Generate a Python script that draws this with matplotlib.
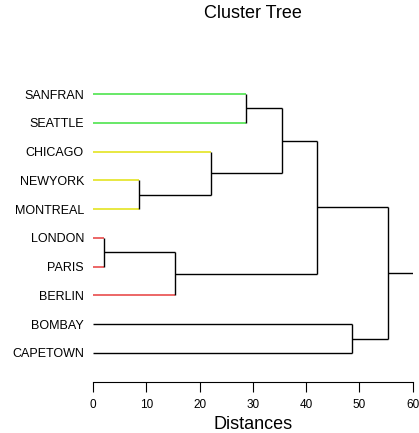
import matplotlib
matplotlib.use('Agg')
import matplotlib.pyplot as plt

plt.rcParams['font.family'] = ['Liberation Sans', 'DejaVu Sans']

# Daun pohon (urutan dari atas ke bawah)
leaves = ["SANFRAN", "SEATTLE", "CHICAGO", "NEWYORK", "MONTREAL",
          "LONDON", "PARIS", "BERLIN", "BOMBAY", "CAPETOWN"]
leaf_colors = ["#5ce65c", "#5ce65c", "#e6e633", "#e6e633", "#e6e633",
               "#ea5a5a", "#ea5a5a", "#ea5a5a", "black", "black"]

# Penggabungan: (anak kiri, anak kanan, jarak); node baru diberi nomor 10, 11, ...
merge_left = [0, 3, 2, 10, 5, 14, 13, 8, 16]
merge_right = [1, 4, 11, 12, 6, 7, 15, 9, 17]
merge_dist = [28.7, 8.7, 22.1, 35.4, 2.1, 15.4, 42.0, 48.7, 55.4]

x_max = 60
x_ticks = [0, 10, 20, 30, 40, 50, 60]

fig = plt.figure(figsize=(4.19, 4.33), dpi=100)
ax = fig.add_axes([93 / 419, 1 - 382 / 433, (412.7 - 93) / 419, (382 - 60) / 433])

n = len(leaves)
pos_y = {i: i + 1 for i in range(n)}
pos_x = {i: 0.0 for i in range(n)}

for k, (a, b, d) in enumerate(zip(merge_left, merge_right, merge_dist)):
    node = n + k
    for child in (a, b):
        color = leaf_colors[child] if child < n else "black"
        lw = 1.3 if child < n and color != "black" else 1.0
        ax.plot([pos_x[child], d], [pos_y[child], pos_y[child]],
                color=color, linewidth=lw, solid_capstyle='butt')
    ax.plot([d, d], [pos_y[a], pos_y[b]], color="black", linewidth=1.0,
            solid_capstyle='butt')
    pos_y[node] = (pos_y[a] + pos_y[b]) / 2
    pos_x[node] = d

# garis akar sampai ujung sumbu
root = n + len(merge_dist) - 1
ax.plot([pos_x[root], x_max], [pos_y[root], pos_y[root]], color="black",
        linewidth=1.0, solid_capstyle='butt')

ax.set_xlim(0, x_max)
ax.set_ylim(11.01, 1 - 34 / 28.77)
ax.set_yticks(range(1, n + 1))
ax.set_yticklabels(leaves, fontsize=9)
ax.tick_params(axis='y', length=0, pad=6.5)
ax.set_xticks(x_ticks)
ax.tick_params(axis='x', direction='out', length=7, width=0.8,
               labelsize=8.5, pad=5.5)
ax.set_xlabel("Distances", fontsize=13, labelpad=3)

for side in ['left', 'top', 'right']:
    ax.spines[side].set_visible(False)
ax.spines['bottom'].set_linewidth(0.8)

fig.text((93 + 412.7) / 2 / 419, 1 - 14 / 433, "Cluster Tree",
         ha='center', va='center', fontsize=13)

plt.savefig("out.png", dpi=100)
